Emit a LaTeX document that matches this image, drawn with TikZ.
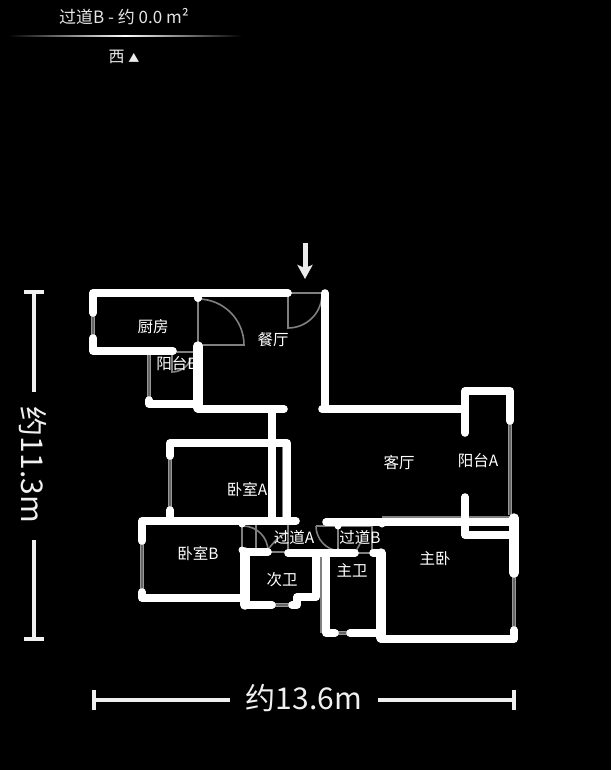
\documentclass[tikz,border=0pt]{standalone}
\usepackage{fontspec}
\setmainfont{Noto Sans CJK SC}
\usetikzlibrary{arrows.meta}

\begin{document}
\begin{tikzpicture}[x=1pt,y=-1pt]
    \tikzstyle{wall} = [draw=white, line width=7.6pt, line cap=round, line join=round]
    \tikzstyle{thickwall} = [draw=white, line width=9.5pt, line cap=round, line join=round]
    \tikzstyle{window} = [draw=white!60!black, double=black!60!white, double distance=1.6pt, line width=1.5pt]
    \tikzstyle{door} = [draw=white!50!black, line width=1.6pt]
    \tikzstyle{dimline} = [draw=white!94!black, line width=3.8pt]
    \tikzstyle{room} = [text=white, font=\fontsize{15.5}{16}\selectfont, inner sep=0pt]
    \tikzstyle{dimtext} = [text=white!94!black, font=\fontsize{30}{30}\selectfont, inner sep=0pt]

    \fill[black] (0,0) rectangle (611,770);
    \useasboundingbox (0,0) rectangle (611,770);

    \node[text=white!90!black, font=\fontsize{17}{17}\selectfont, inner sep=0pt] (title) at (124,17) {过道B - 约 0.0 m²};
    \shade[left color=black, right color=black, middle color=white] (8,35.6) rectangle (242,36.8);
    \node[text=white!92!black, font=\fontsize{16}{16}\selectfont, inner sep=0pt] (north) at (124,57) {西 {\fontsize{11}{11}\selectfont ▲}};

    \coordinate (entryA) at (305,243);
    \coordinate (entryB) at (305,279);
    \draw[draw=white!92!black, line width=5pt, -{Stealth[length=14pt,width=15pt,inset=3pt]}] (entryA) -- (entryB);

    \draw[door] (198,298) -- (198,345) -- (244,345) arc[start angle=0, end angle=-90, radius=46];
    \draw[door] (290,293) -- (324,293);
    \draw[door] (288,293) -- (288,328) arc[start angle=90, end angle=5, radius=34];
    \draw[door] (175,352) -- (198,352);
    \draw[door] (172,352) -- (172,372) arc[start angle=90, end angle=20, radius=20];
    \draw[door] (242,525) -- (242,550);
    \draw[door] (256,524) -- (256,552) -- (288,552);
    \draw[door] (243,526) arc[start angle=-90, end angle=0, radius=25];
    \draw[door] (267,551) .. controls (274,541) and (281,535) .. (288,532);
    \draw[door] (288,525) -- (288,552);
    \draw[door] (316,526) -- (338,526) -- (338,552);
    \draw[door] (316,526) arc[start angle=180, end angle=95, radius=25];
    \draw[door] (338,526) -- (372,526) -- (372,553);
    \draw[door] (355,553) -- (362,540);
    \draw[door] (355,553) -- (373,553);
    \draw[door] (321,553) -- (321,633);
    \draw[door] (283,446) -- (283,520);
    \draw[door] (382,517) -- (510,517);

    \draw[window] (93,314) -- (93,338);
    \draw[window] (149,355) -- (149,402);
    \draw[window] (170,457) -- (170,510);
    \draw[window] (142,540) -- (142,592);
    \draw[window] (272,605) -- (292,605);
    \draw[window] (335,633) -- (350,633);
    \draw[window] (510,420) -- (510,515);
    \draw[window] (514,572) -- (514,630);

    \draw[wall] (93,313) -- (93,293) -- (288,293);
    \draw[wall] (93,338) -- (93,351) -- (173,351);
    \draw[wall] (198,293) -- (198,298);
    \draw[thickwall] (198,346) -- (198,408);
    \draw[wall] (149,400) -- (149,404) -- (198,404);
    \draw[wall] (198,409) -- (284,409);
    \draw[wall] (325,293) -- (325,409);
    \draw[wall] (322,409) -- (465,409);
    \draw[wall] (272,409) -- (272,520);
    \draw[wall] (170,456) -- (170,443) -- (287,443) -- (287,520);
    \draw[wall] (170,510) -- (170,521);
    \draw[wall] (142,541) -- (142,521) -- (296,521);
    \draw[wall] (142,592) -- (142,598) -- (245,598);
    \draw[thickwall] (245,552) -- (245,605);
    \draw[wall] (245,552) -- (268,552);
    \draw[wall] (245,605) -- (272,605);
    \draw[wall] (292,605) -- (297,605) -- (297,597) -- (316,597) -- (316,553);
    \draw[wall] (288,553) -- (355,553);
    \draw[wall] (373,553) -- (381,553);
    \draw[wall] (326,553) -- (326,633) -- (335,633);
    \draw[wall] (350,633) -- (381,633);
    \draw[thickwall] (381,553) -- (381,638);
    \draw[wall] (381,639) -- (514,639) -- (514,630);
    \draw[wall] (326,522) -- (514,522);
    \draw[thickwall] (514,518) -- (514,573);
    \draw[wall] (465,433) -- (465,391) -- (510,391) -- (510,421);
    \draw[wall] (465,497) -- (465,535) -- (514,535);
    \fill[white] (198,298) circle (4pt);
    \fill[white] (242,524) circle (3.5pt);
    \fill[white] (242,550) circle (3.5pt);
    \fill[white] (338,526) circle (3.5pt);
    \fill[white] (338,552) circle (3.5pt);
    \fill[white] (382,524) circle (3.5pt);

    \node[room] (kitchen) at (153,327) {厨房};
    \node[room] (dining) at (273,340) {餐厅};
    \node[room] (balconyB) at (177,364) {阳台B};
    \node[room] (living) at (399,463) {客厅};
    \node[room] (balconyA) at (478,461) {阳台A};
    \node[room] (bedroomA) at (247,489) {卧室A};
    \node[room] (bedroomB) at (198,553) {卧室B};
    \node[room] (hallA) at (294,537) {过道A};
    \node[room] (hallB) at (360,537) {过道B};
    \node[room] (bathB) at (282,580) {次卫};
    \node[room] (bathA) at (352,570) {主卫};
    \node[room] (master) at (435,559) {主卧};

    \draw[dimline] (24,292) -- (44,292);
    \draw[dimline] (24,639) -- (44,639);
    \draw[dimline] (34,292) -- (34,392);
    \draw[dimline] (34,540) -- (34,639);
    \node[dimtext, rotate=-90] (height) at (33,465) {约11.3m};

    \draw[dimline] (94,690) -- (94,710);
    \draw[dimline] (514,690) -- (514,710);
    \draw[dimline] (94,700) -- (230,700);
    \draw[dimline] (378,700) -- (514,700);
    \node[dimtext] (width) at (304,698) {约13.6m};
\end{tikzpicture}
\end{document}
